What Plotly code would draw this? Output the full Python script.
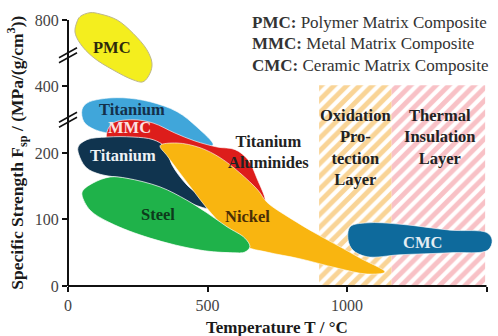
import plotly.graph_objects as go

# ---------------------------------------------------------------------------
# Material property regions: temperature (°C) vs specific strength.
# The strength axis is broken above 200: one axis step of 100 covers
# 200 -> 400 and another covers 400 -> 800, so outlines are given in the
# axis' own (display) units.
# ---------------------------------------------------------------------------
y_tickvals = [0, 100, 200, 300, 400]
y_ticktext = ["0", "100", "200", "400", "800"]
x_tickvals = [0, 500, 1000, 1500]

# Coating windows (hatched bands)
oxid_temp = [900, 1160, 1160, 900]
oxid_strength = [0, 0, 302, 302]
therm_temp = [1160, 1495, 1495, 1160]
therm_strength = [0, 0, 302, 302]

pmc_temp = [43, 79, 115, 176, 233, 283, 301, 294, 269, 233, 161, 90, 43, 25, 32, 43]
pmc_strength = [405, 411, 409, 400, 380, 355, 335, 320, 307, 310, 325, 344, 365, 382, 397, 405]

ti_light_temp = [50, 68, 115, 197, 294, 391, 462, 520, 455, 330, 186, 97, 57, 50]
ti_light_strength = [265, 275, 281, 283, 277, 262, 239, 212, 212, 220, 227, 235, 247, 265]

mmc_temp = [140, 161, 233, 305, 383, 455, 534, 599, 645, 677, 706, 670, 581, 473, 366, 222, 143, 140]
mmc_strength = [232, 245, 250, 245, 230, 218, 209, 205, 190, 162, 126, 129, 144, 167, 190, 205, 215, 232]

ti_dark_temp = [36, 68, 140, 233, 305, 348, 373, 426, 484, 505, 448, 330, 211, 115, 68, 43, 36]
ti_dark_strength = [209, 220, 224, 224, 220, 209, 182, 152, 131, 117, 123, 147, 161, 168, 177, 193, 209]

nickel_temp = [330, 391, 473, 545, 616, 681, 713, 796, 892, 975, 1047, 1136,
               1072, 964, 831, 713, 634, 563, 498, 448, 401, 355, 330]
nickel_strength = [211, 215, 208, 193, 170, 144, 126, 102, 78, 59, 42, 21,
                   18, 27, 41, 51, 60, 87, 117, 144, 170, 196, 211]

steel_temp = [54, 90, 151, 211, 330, 426, 498, 570, 634, 652, 634, 591, 473, 294, 151, 79, 50, 54]
steel_strength = [144, 155, 164, 162, 149, 129, 110, 89, 72, 59, 51, 50, 54, 72, 95, 114, 137, 144]

cmc_temp = [1011, 1072, 1190, 1369, 1502, 1520, 1505, 1369, 1190, 1072, 1021, 1004, 1011]
cmc_strength = [89, 95, 93, 84, 80, 69, 54, 50, 47, 44, 54, 69, 89]

SERIF = "Liberation Serif"

fig = go.Figure()

# hatched coating bands
for xs, ys, col in [(oxid_temp, oxid_strength, "#f3a92e"),
                    (therm_temp, therm_strength, "#f2838d")]:
    fig.add_trace(go.Scatter(
        x=xs, y=ys, mode="lines", fill="toself", line=dict(width=0),
        fillcolor="rgba(0,0,0,0)",
        fillpattern=dict(shape="/", fgcolor=col, bgcolor="white",
                         size=9, solidity=0.55),
        hoverinfo="skip", showlegend=False))

# material regions, back to front
regions = [
    (ti_light_temp, ti_light_strength, "#40a6da", "rgba(255,255,255,0.6)"),
    (mmc_temp, mmc_strength, "#dd1d1b", "rgba(255,255,255,0.6)"),
    (ti_dark_temp, ti_dark_strength, "#10344f", "rgba(255,255,255,0.7)"),
    (nickel_temp, nickel_strength, "#f9b510", "rgba(255,255,255,0.6)"),
    (steel_temp, steel_strength, "#1fb24a", "rgba(255,255,255,0.7)"),
    (cmc_temp, cmc_strength, "#0e6a9c", "rgba(255,255,255,0.6)"),
    (pmc_temp, pmc_strength, "#f4ee1e", "#bdb78a"),
]
for xs, ys, col, edge in regions:
    fig.add_trace(go.Scatter(
        x=xs, y=ys, mode="lines", fill="toself", fillcolor=col,
        line=dict(color=edge, width=1, shape="spline", smoothing=1.0),
        hoverinfo="skip", showlegend=False))

# region labels
labels = [
    (158, 359, "PMC", "#2d2a0c"),
    (229, 265, "Titanium", "#14304a"),
    (222, 238, "MMC", "#fbe1e1"),
    (197, 196, "Titanium", "#eef2f5"),
    (323, 107, "Steel", "#0d3a1b"),
    (642, 104, "Nickel", "#4a2e06"),
    (717, 202, "Titanium<br>Aluminides", "#222222"),
    (1272, 65, "CMC", "#e4edf3"),
    (1029, 208, "Oxidation<br>Pro-<br>tection<br>Layer", "#222222"),
    (1333, 224, "Thermal<br>Insulation<br>Layer", "#222222"),
]
for x, y, t, c in labels:
    fig.add_annotation(x=x, y=y, xref="x", yref="y", text=f"<b>{t}</b>",
                       showarrow=False, align="center",
                       font=dict(family=SERIF, size=16.5, color=c))

# abbreviation key
key_rows = [
    (396, "<b>PMC:</b> Polymer Matrix Composite"),
    (364, "<b>MMC:</b> Metal Matrix Composite"),
    (332, "<b>CMC:</b> Ceramic Matrix Composite"),
]
for y, t in key_rows:
    fig.add_annotation(x=652, y=y, xref="x", yref="y", text=t,
                       showarrow=False, xanchor="left", yanchor="middle",
                       font=dict(family=SERIF, size=17, color="#333333"))

# axis titles
fig.add_annotation(x=0.488, y=-0.151, xref="paper", yref="paper",
                   xanchor="center", yanchor="middle",
                   text="<b>Temperature T / °C</b>", showarrow=False,
                   font=dict(family=SERIF, size=17, color="#1a1a1a"))
fig.add_annotation(x=-0.119, y=0.48, xref="paper", yref="paper", textangle=-90,
                   xanchor="center", yanchor="middle",
                   text="<b>Specific Strength F<sub>sp</sub> / (MPa/(g/cm<sup>3</sup>))</b>",
                   showarrow=False,
                   font=dict(family=SERIF, size=17.5, color="#1a1a1a"))

# axis lines
fig.add_shape(type="line", xref="paper", yref="y", x0=0, x1=0, y0=0, y1=400,
              line=dict(color="#111111", width=2))
fig.add_shape(type="line", xref="x", yref="paper", x0=-5, x1=1500, y0=0, y1=0,
              line=dict(color="#111111", width=2))

# axis break marks
for yb in [250, 347]:
    for dy in [-2.5, 2.5]:
        fig.add_shape(type="line", xref="paper", yref="y",
                      xsizemode="pixel", ysizemode="pixel",
                      xanchor=0, yanchor=yb,
                      x0=-9, x1=9, y0=-5 + dy, y1=5 + dy,
                      line=dict(color="#111111", width=1.5))

fig.update_xaxes(range=[0, 1534], tickvals=x_tickvals, ticks="outside",
                 ticklen=5, tickwidth=2, tickcolor="#111111",
                 showgrid=False, zeroline=False, showline=False,
                 tickfont=dict(family=SERIF, size=16, color="#444444"))
fig.update_yaxes(range=[0, 418], tickvals=y_tickvals, ticktext=y_ticktext,
                 ticks="outside", ticklen=5, tickwidth=2, tickcolor="#111111",
                 showgrid=False, zeroline=False, showline=False,
                 tickfont=dict(family=SERIF, size=16, color="#444444"))

fig.update_layout(width=498, height=336,
                  margin=dict(l=68, r=2, t=8, b=50),
                  plot_bgcolor="white", paper_bgcolor="white",
                  showlegend=False)

fig.write_html("out.html")
